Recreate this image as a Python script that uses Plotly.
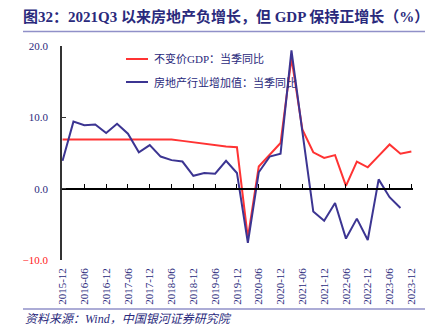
import plotly.graph_objects as go

# Quarter-end labels, 2015-12 .. 2023-12
quarters = [
    "2015-12", "2016-03", "2016-06", "2016-09", "2016-12",
    "2017-03", "2017-06", "2017-09", "2017-12",
    "2018-03", "2018-06", "2018-09", "2018-12",
    "2019-03", "2019-06", "2019-09", "2019-12",
    "2020-03", "2020-06", "2020-09", "2020-12",
    "2021-03", "2021-06", "2021-09", "2021-12",
    "2022-03", "2022-06", "2022-09", "2022-12",
    "2023-03", "2023-06", "2023-09", "2023-12",
]

# 不变价GDP：当季同比 (%)
gdp_yoy = [
    6.9, 6.9, 6.8, 6.8, 6.8, 6.9, 6.9, 6.9, 6.8,
    6.9, 6.9, 6.7, 6.5, 6.3, 6.0, 5.9, 5.8,
    -6.9, 3.1, 4.7, 6.4, 18.3, 8.3, 5.1, 4.3,
    4.7, 0.4, 3.8, 3.0, 4.6, 6.2, 4.9, 5.2,
]

# 房地产行业增加值：当季同比 (%)
realestate_yoy = [
    3.9, 9.4, 8.9, 9.0, 7.8, 9.1, 7.7, 5.1, 6.1,
    4.5, 4.0, 3.8, 1.8, 2.2, 2.1, 3.9, 2.2,
    -7.6, 2.3, 4.5, 4.9, 19.4, 8.0, -3.2, -4.5,
    -2.0, -7.0, -4.2, -7.2, 1.3, -1.2, -2.7,
]

y_ticks = [-10, 0, 10, 20]

NAVY = "#2a2a7c"
RED = "#ff3333"
BLUE = "#3c3592"
SERIF = "Liberation Serif, Noto Sans CJK SC, serif"

W, H = 437, 334
L, R, T, B = 62, 24, 46, 74
PW, PH = W - L - R, H - T - B


def px(x):
    return (x - L) / PW


def py(y):
    return (H - B - y) / PH


idx = list(range(len(quarters)))
x_range = [-0.05, len(quarters) - 1 + 0.15]
tick_idx = idx[::2]
tick_lab = quarters[::2]

fig = go.Figure()
fig.add_trace(go.Scatter(
    x=idx, y=gdp_yoy, mode="lines", name="不变价GDP：当季同比",
    line=dict(color=RED, width=2), xaxis="x", yaxis="y",
))
fig.add_trace(go.Scatter(
    x=idx[:len(realestate_yoy)], y=realestate_yoy, mode="lines",
    name="房地产行业增加值：当季同比",
    line=dict(color=BLUE, width=2), xaxis="x2", yaxis="y",
))

y_text = []
for v in y_ticks:
    s = f"{abs(v):.1f}"
    if v < 0:
        y_text.append(f"<span style='color:#ff2020'>\u2212{s}</span>")
    else:
        y_text.append(s)

fig.update_layout(
    width=W, height=H,
    margin=dict(l=L, r=R, t=T, b=B, pad=0),
    paper_bgcolor="white", plot_bgcolor="white",
    showlegend=False,
    font=dict(family=SERIF, color=NAVY, size=11),
    xaxis=dict(
        range=x_range, showgrid=False, zeroline=False, showline=False,
        tickmode="array", tickvals=tick_idx, ticktext=tick_lab,
        tickangle=-90, ticks="", tickfont=dict(size=11, color=NAVY, family=SERIF),
        ticklabelstandoff=5,
    ),
    xaxis2=dict(
        range=x_range, overlaying="x", anchor="free", position=1 / 3,
        side="bottom", showgrid=False, zeroline=False,
        showline=True, linecolor="black", linewidth=1.5,
        tickmode="array", tickvals=tick_idx, ticks="inside", ticklen=4,
        tickwidth=1.2, tickcolor="black", showticklabels=False,
    ),
    yaxis=dict(
        range=[-10, 20], showgrid=False, zeroline=False,
        showline=True, linecolor="#333333", linewidth=1.5,
        tickmode="array", tickvals=y_ticks, ticktext=y_text,
        ticks="inside", ticklen=4, tickwidth=1.2, tickcolor="#333333",
        tickfont=dict(size=11, color=NAVY, family=SERIF),
        ticklabelstandoff=10,
    ),
    title=dict(
        text="<b>图32：2021Q3 以来房地产负增长，但 GDP 保持正增长（%）</b>",
        font=dict(size=15, color=NAVY, family=SERIF),
        xref="container", yref="container",
        x=23 / W, y=1 - 17 / H, xanchor="left", yanchor="middle",
    ),
)

shapes = [
    # rule under the heading
    dict(type="line", xref="paper", yref="paper",
         x0=px(23), x1=px(425), y0=py(31.5), y1=py(31.5),
         line=dict(color="#9090c8", width=1.5)),
    # rule above the source note
    dict(type="line", xref="paper", yref="paper",
         x0=px(23), x1=px(425), y0=py(309), y1=py(309),
         line=dict(color="#9090c8", width=1.5)),
    # legend swatches
    dict(type="line", xref="paper", yref="paper",
         x0=px(126), x1=px(148), y0=py(59), y1=py(59),
         line=dict(color=RED, width=2)),
    dict(type="line", xref="paper", yref="paper",
         x0=px(126), x1=px(148), y0=py(82), y1=py(82),
         line=dict(color=BLUE, width=2)),
]
fig.update_layout(shapes=shapes)

annotations = [
    dict(text="不变价GDP：当季同比", xref="paper", yref="paper",
         x=px(152), y=py(59), xanchor="left", yanchor="middle",
         showarrow=False, font=dict(size=11, color=NAVY, family=SERIF)),
    dict(text="房地产行业增加值：当季同比", xref="paper", yref="paper",
         x=px(152), y=py(82), xanchor="left", yanchor="middle",
         showarrow=False, font=dict(size=11, color=NAVY, family=SERIF)),
    dict(text="<i>资料来源：Wind，中国银河证券研究院</i>", xref="paper", yref="paper",
         x=px(23), y=py(319), xanchor="left", yanchor="middle",
         showarrow=False, font=dict(size=12, color=NAVY, family=SERIF)),
]
fig.update_layout(annotations=annotations)

fig.write_html("out.html")
